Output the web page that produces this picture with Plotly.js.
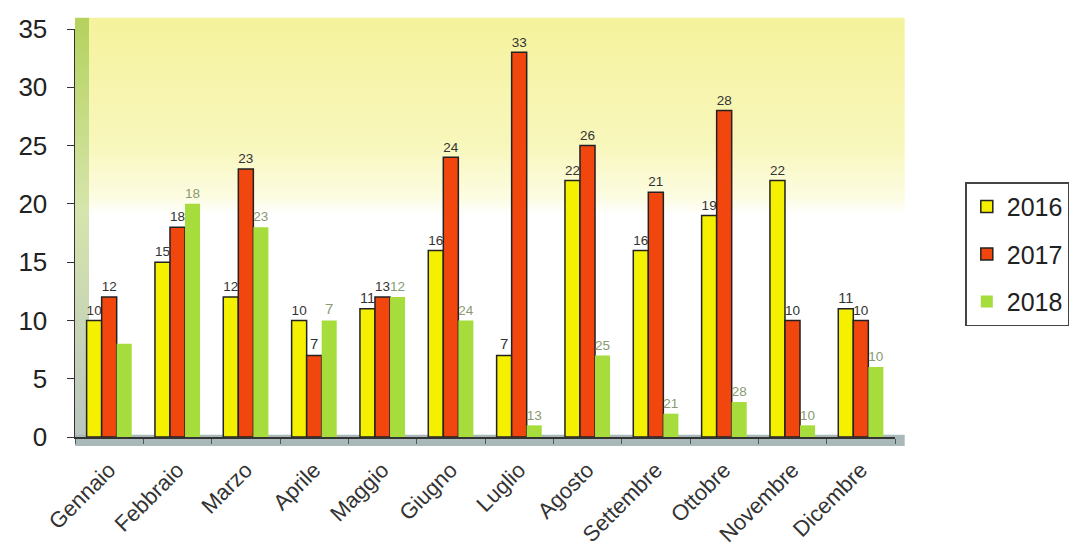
<!DOCTYPE html>
<html>
<head>
<meta charset="utf-8">
<script src="https://cdn.plot.ly/plotly-3.0.1.min.js"></script>
<style>html,body{margin:0;padding:0;background:#fff}#chart{width:1069px;height:549px}</style>
</head>
<body>
<div id="chart"></div>
<script>
const months = ["Gennaio","Febbraio","Marzo","Aprile","Maggio","Giugno","Luglio","Agosto","Settembre","Ottobre","Novembre","Dicembre"];
const v2016 = [10, 15, 12, 10, 11, 16, 7, 22, 16, 19, 22, 11];
const v2017 = [12, 18, 23, 7, 12, 24, 33, 25, 21, 28, 10, 10];
const v2018 = [8, 20, 18, 10, 12, 10, 1, 7, 2, 3, 1, 6];
const t2016 = ["10","15","12","10","11","16","7","22","16","19","22","11"];
const t2017 = ["12","18","23","7","13","24","33","26","21","28","10","10"];
const t2018 = ["","18","23","7","12","24","13","25","21","28","10","10"];
const yTicks = [0, 5, 10, 15, 20, 25, 30, 35];

const bgSvg = '<svg xmlns="http://www.w3.org/2000/svg" width="830" height="420" preserveAspectRatio="none">' +
  '<defs><linearGradient id="g" x1="0" y1="0" x2="0" y2="1">' +
  '<stop offset="0" stop-color="#f5f29c"/><stop offset="0.3" stop-color="#f8f7bc"/>' +
  '<stop offset="0.42" stop-color="#fcfce2"/><stop offset="0.46" stop-color="#ffffff"/>' +
  '<stop offset="1" stop-color="#ffffff"/></linearGradient>' +
  '<linearGradient id="w" x1="0" y1="0" x2="0" y2="1">' +
  '<stop offset="0" stop-color="#b4d25c"/><stop offset="0.45" stop-color="#d6e5ac"/>' +
  '<stop offset="1" stop-color="#b9c4c0"/></linearGradient></defs>' +
  '<rect x="12" y="0" width="818" height="420" fill="url(#g)"/>' +
  '<rect x="0" y="0" width="14" height="420" fill="url(#w)"/>' +
  '<rect x="0" y="409" width="830" height="11" fill="#a9b8b8"/>' +
  '</svg>';
const bgUri = 'data:image/svg+xml;charset=utf-8,' + encodeURIComponent(bgSvg);

const font = "Liberation Sans, Arial, sans-serif";

function bar(name, y, text, color, outline, tcolor) {
  return {
    type: "bar", name: name, legendgroup: name, x: months, y: y, text: text,
    textposition: "outside", cliponaxis: false,
    textfont: {family: font, size: 15, color: tcolor},
    marker: {color: color, line: {color: outline, width: outline ? 1.5 : 0}},
    hoverinfo: "x+y"
  };
}

const data = [
  bar("2016", v2016, t2016, "#f4f000", "#222", "#333"),
  bar("2017", v2017, t2017, "#f2460f", "#222", "#333"),
  bar("2018", v2018, t2018, "#a6dc3c", "rgba(0,0,0,0)", "#8a9a70")
];

const layout = {
  width: 1069, height: 549,
  margin: {l: 75, r: 174, t: 29, b: 112, autoexpand: false},
  paper_bgcolor: "#ffffff",
  plot_bgcolor: "rgba(0,0,0,0)",
  font: {family: font, color: "#222"},
  barmode: "group", bargap: 0.34, bargroupgap: 0,
  showlegend: true,
  legend: {
    xref: "container", yref: "container",
    x: 0.903, xanchor: "left", y: 0.537, yanchor: "middle",
    bordercolor: "#444", borderwidth: 1.5, bgcolor: "#ffffff",
    font: {family: font, size: 25, color: "#222"},
    traceorder: "grouped", tracegroupgap: 12,
    itemwidth: 30
  },
  xaxis: {
    type: "category", tickangle: -45,
    tickfont: {family: font, size: 22, color: "#333"},
    showline: true, linecolor: "#333", linewidth: 1.5,
    ticks: "outside", tickson: "boundaries", ticklen: 5, tickcolor: "#555",
    ticklabelstandoff: 10,
    showgrid: false, zeroline: false
  },
  yaxis: {
    range: [0, 35], tickvals: yTicks, ticktext: yTicks.map(String),
    tickfont: {family: font, size: 26, color: "#222"},
    showline: true, linecolor: "#333", linewidth: 1.5,
    ticks: "outside", ticklen: 7, tickcolor: "#333",
    ticklabelstandoff: 14,
    showgrid: false, zeroline: false
  },
  images: [{
    source: bgUri, xref: "paper", yref: "paper",
    x: 0, y: 1.028, sizex: 1.012, sizey: 1.05,
    sizing: "stretch", xanchor: "left", yanchor: "top", layer: "below"
  }]
};

Plotly.newPlot("chart", data, layout, {displayModeBar: false, staticPlot: true});
</script>
</body>
</html>
